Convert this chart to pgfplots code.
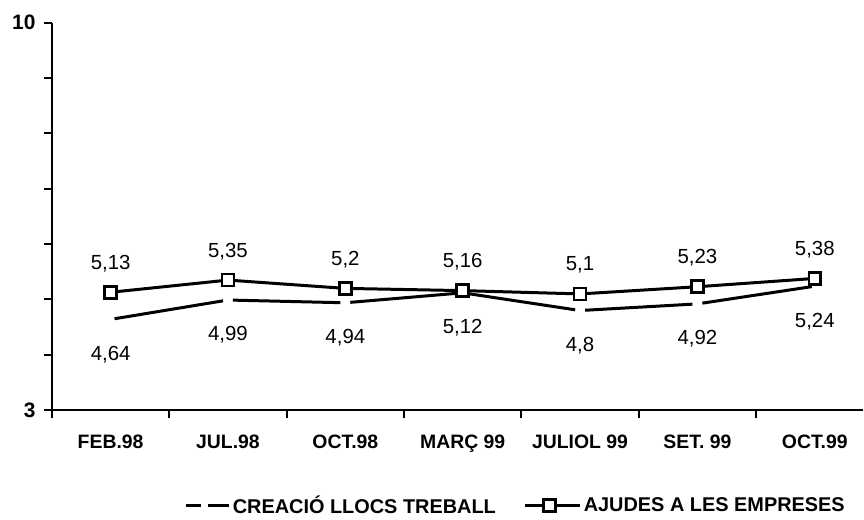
\documentclass[border=0pt]{standalone}
\usepackage{fontspec}
\setmainfont{Liberation Sans}
\usepackage{pgfplots}
\pgfplotsset{compat=1.18}
\begin{document}
\begin{tikzpicture}
\begin{axis}[
  name=ax,
  at={(0,0)}, anchor=south west,
  scale only axis, width=812bp, height=388bp,
  xmin=-0.5, xmax=6.41, ymin=3, ymax=10,
  axis lines*=left,
  axis line style={line width=2.2bp},
  xtick={0,...,6},
  xticklabels={FEB.98, JUL.98, OCT.98, MARÇ 99, JULIOL 99, SET. 99, OCT.99},
  minor xtick={-0.5,0.5,...,5.5},
  ytick={3,10}, yticklabels={3,10}, minor ytick={4,...,9},
  tick align=outside,
  major tick length=8bp, minor tick length=8bp,
  every tick/.style={line width=2bp, black},
  major x tick style={draw=none},
  xticklabel style={font=\bfseries\fontsize{19.5}{22}\selectfont, anchor=base, yshift=-30.6bp},
  yticklabel style={font=\bfseries\fontsize{21}{23}\selectfont, anchor=east, xshift=-5bp},
  clip=false,
  legend style={at={(0.572,-0.246)}, anchor=center, draw=none, fill=none,
    legend columns=2, font=\bfseries\fontsize{20}{22}\selectfont,
    /tikz/every even column/.append style={column sep=26bp}},
]
% CREACIO LLOCS TREBALL: segments with gaps at points
\addlegendimage{legend image code/.code={\draw[line width=3bp] (0bp,0)--(15bp,0) (22bp,0)--(43bp,0);}}
\addlegendentry{CREACIÓ LLOCS TREBALL}
\addplot[forget plot, line width=3bp, shorten <=4bp, shorten >=5bp] coordinates {(0,4.64) (1,4.99)};
\addplot[forget plot, line width=3bp, shorten <=5bp, shorten >=5bp] coordinates {(1,4.99) (2,4.94)};
\addplot[forget plot, line width=3bp, shorten <=5bp, shorten >=0bp] coordinates {(2,4.94) (3,5.12)};
\addplot[forget plot, line width=3bp, shorten <=0bp, shorten >=5bp] coordinates {(3,5.12) (4,4.80)};
\addplot[forget plot, line width=3bp, shorten <=5bp, shorten >=5bp] coordinates {(4,4.80) (5,4.92)};
\addplot[forget plot, line width=3bp, shorten <=5bp, shorten >=3bp] coordinates {(5,4.92) (6,5.24)};
\addplot[forget plot, draw=none, mark=none, point meta=explicit symbolic, nodes near coords,
  every node near coord/.append style={font=\fontsize{20.5}{22}\selectfont, anchor=base, yshift=-41bp}]
  coordinates {(0,4.64)[4{,}64] (1,4.99)[4{,}99] (2,4.94)[4{,}94] (3,5.12)[5{,}12] (4,4.80)[4{,}8] (5,4.92)[4{,}92] (6,5.24)[5{,}24]};
% AJUDES A LES EMPRESES
\addplot[line width=3bp, mark=square*, mark size=6bp, mark options={fill=white, line width=2.6bp},
  point meta=explicit symbolic, nodes near coords,
  every node near coord/.append style={font=\fontsize{20.5}{22}\selectfont, anchor=base, yshift=23bp},
  legend image code/.code={\draw[line width=3bp] (0bp,0)--(55bp,0); \filldraw[fill=white, line width=2.6bp] (18bp,-6bp) rectangle (30bp,6bp);}]
  coordinates {(0,5.13)[5{,}13] (1,5.35)[5{,}35] (2,5.20)[5{,}2] (3,5.16)[5{,}16] (4,5.10)[5{,}1] (5,5.23)[5{,}23] (6,5.38)[5{,}38]};
\addlegendentry{AJUDES A LES EMPRESES}
\end{axis}
\path (ax.south west) ++(-52bp,-104.3bp) rectangle ++(864bp,515bp);
\end{tikzpicture}
\end{document}
